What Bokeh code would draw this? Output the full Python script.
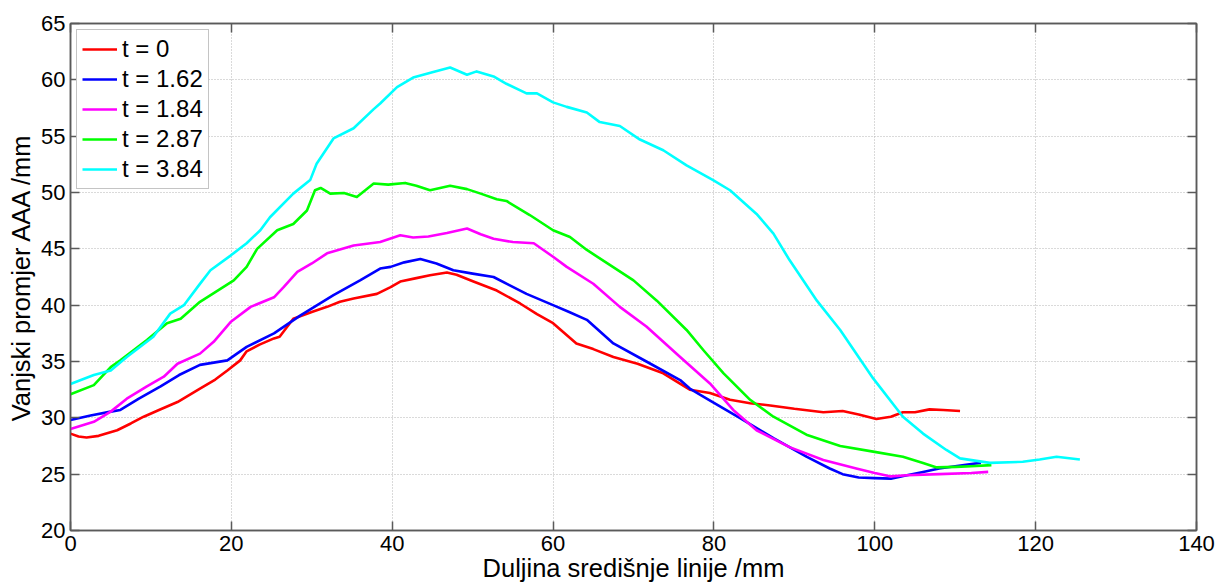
from bokeh.plotting import figure
from bokeh.models import LinearAxis, Range1d, FixedTicker, Legend, LegendItem
from bokeh.embed import file_html
from bokeh.resources import INLINE

# ---- data ----
labels = ["t = 0", "t = 1.62", "t = 1.84", "t = 2.87", "t = 3.84"]
colors = ["#ff0000", "#0000ff", "#ff00ff", "#00ff00", "#00ffff"]

x_t0 = [0, 1, 2, 3.5, 5.8, 7.5, 9.1, 11, 13.3, 16.1, 18, 19.5, 21.1, 21.9, 23.5, 25.3, 26, 27.7, 30, 31.9,
        33.5, 35.2, 38.1, 39.8, 41.0, 43, 44.7, 46.8, 48, 50.1, 53.0, 55.9, 58, 60.0, 62.9, 65, 67.5, 70.5,
        73.7, 77.0, 79.5, 82, 84.5, 87, 90, 93.6, 96, 98, 100.2, 102, 103.5, 105, 106.8, 108.5, 110.6]
y_t0 = [28.6, 28.35, 28.25, 28.4, 28.9, 29.5, 30.1, 30.7, 31.4, 32.6, 33.4, 34.2, 35.1, 35.9, 36.5, 37.05,
        37.2, 38.8, 39.4, 39.85, 40.3, 40.6, 41.0, 41.6, 42.1, 42.4, 42.65, 42.9, 42.7, 42.1, 41.3, 40.15,
        39.2, 38.4, 36.6, 36.1, 35.4, 34.8, 33.95, 32.5, 32.2, 31.6, 31.3, 31.1, 30.8, 30.5, 30.6, 30.3,
        29.9, 30.1, 30.5, 30.5, 30.75, 30.7, 30.6]

x_t162 = [0, 2.5, 5, 6.2, 8.5, 11.2, 13.5, 16.1, 19.5, 21.9, 25.3, 28.6, 32.7, 36.0, 38.5, 39.8, 41.5,
          43.5, 45.5, 47.6, 50, 52.6, 54.5, 56.7, 60.0, 62, 64.2, 67.5, 71.6, 75.8, 77.0, 79.1, 83.2, 87.4,
          91.5, 94.4, 96, 98, 100, 102, 104, 106, 108, 110, 112, 113.2]
y_t162 = [29.8, 30.2, 30.55, 30.7, 31.7, 32.8, 33.8, 34.7, 35.1, 36.3, 37.5, 39.1, 40.9, 42.2, 43.25, 43.4,
          43.8, 44.1, 43.7, 43.1, 42.8, 42.5, 41.8, 41.0, 40.0, 39.4, 38.7, 36.6, 35.0, 33.35, 32.6, 31.7,
          30.0, 28.2, 26.55, 25.5, 25.0, 24.7, 24.65, 24.6, 24.9, 25.2, 25.5, 25.7, 25.9, 26.0]

x_t184 = [0, 2.9, 5, 7.0, 9.5, 11.6, 13.3, 16.1, 17.8, 19.9, 22.4, 25.3, 26.5, 28.2, 30, 31.9, 35.2, 38.5,
          41, 42.6, 44.5, 46.8, 49.3, 51, 52.6, 55, 57.6, 60.0, 61.7, 65.0, 68.3, 71.6, 75.8, 79.5, 82.4,
          85.3, 89.4, 93.6, 97.7, 100, 102, 104, 108, 112, 114.1]
y_t184 = [29.0, 29.65, 30.55, 31.7, 32.8, 33.65, 34.8, 35.7, 36.75, 38.5, 39.85, 40.7, 41.6, 42.95, 43.7,
          44.6, 45.3, 45.6, 46.2, 46.0, 46.1, 46.4, 46.8, 46.3, 45.9, 45.6, 45.5, 44.3, 43.4, 41.9, 39.85,
          38.1, 35.4, 33.05, 30.7, 28.9, 27.4, 26.25, 25.5, 25.1, 24.8, 24.9, 25.0, 25.1, 25.2]

x_t287 = [0, 2.9, 5, 6.2, 9.5, 12.0, 13.7, 16.1, 20.3, 21.9, 23.2, 25.7, 27.7, 29.4, 30.4, 31.1, 32.3,
          34.0, 35.6, 37.7, 39.5, 41.6, 43, 44.7, 47.2, 49.3, 51, 53.0, 54.2, 57.1, 60.0, 62.1, 64.2, 67,
          70.0, 72.9, 76.6, 78.7, 81.2, 84.5, 87.4, 91.5, 95.7, 99.8, 103.5, 106.0, 107.7, 110.1, 112, 114.5]
y_t287 = [32.1, 32.9, 34.5, 35.1, 36.9, 38.4, 38.8, 40.3, 42.2, 43.4, 45.0, 46.65, 47.2, 48.4, 50.2, 50.4,
          49.9, 49.95, 49.6, 50.8, 50.7, 50.85, 50.6, 50.2, 50.6, 50.3, 49.9, 49.4, 49.25, 48.0, 46.65,
          46.05, 44.9, 43.6, 42.2, 40.4, 37.8, 36.0, 33.95, 31.6, 30.1, 28.5, 27.5, 27.0, 26.55, 26.0,
          25.6, 25.65, 25.7, 25.8]

x_t384 = [0, 2.9, 5, 7.0, 10.3, 12.4, 14.1, 16, 17.4, 19.9, 21.9, 23.6, 24.8, 27.7, 29.8, 30.6, 32.7,
          35.2, 37.7, 38.5, 40.6, 42.6, 45.1, 47.2, 49.3, 50.5, 52.6, 54.2, 56.7, 58.0, 60.0, 61.7, 64.2,
          65.8, 68.3, 70.8, 73.7, 76.6, 79.9, 82.0, 85.3, 87.4, 89.4, 92.8, 95.7, 99.8, 103.5, 106.0,
          108.9, 110.6, 114.3, 118.4, 120.5, 122.6, 125.5]
y_t384 = [33.0, 33.8, 34.2, 35.4, 37.2, 39.25, 40.0, 41.8, 43.1, 44.4, 45.5, 46.65, 47.8, 49.9, 51.1,
          52.55, 54.8, 55.7, 57.4, 57.9, 59.35, 60.2, 60.7, 61.1, 60.45, 60.75, 60.3, 59.65, 58.8, 58.8,
          58.0, 57.6, 57.1, 56.25, 55.9, 54.7, 53.75, 52.4, 51.1, 50.2, 48.1, 46.35, 44.0, 40.4, 37.8,
          33.5, 30.1, 28.6, 27.15, 26.4, 26.0, 26.1, 26.3, 26.55, 26.3]

x_ticks = [0, 20, 40, 60, 80, 100, 120, 140]
y_ticks = [20, 25, 30, 35, 40, 45, 50, 55, 60, 65]

series_x = [x_t0, x_t162, x_t184, x_t287, x_t384]
series_y = [y_t0, y_t162, y_t184, y_t287, y_t384]

FONT = "Liberation Sans"
AXC = "#5a5a5a"

p = figure(width=1216, height=586, output_backend="svg", toolbar_location=None,
           x_range=Range1d(0, 140), y_range=Range1d(20, 65),
           min_border_left=70, min_border_right=20, min_border_top=23, min_border_bottom=56,
           x_axis_label="Duljina središnje linije /mm", y_axis_label="Vanjski promjer AAA /mm")
p.outline_line_color = AXC
p.outline_line_width = 1.5
p.background_fill_color = "white"
p.border_fill_color = "white"

for ax, ticks in ((p.xaxis[0], x_ticks), (p.yaxis[0], y_ticks)):
    ax.ticker = FixedTicker(ticks=ticks)
    ax.major_tick_in = 9
    ax.major_tick_out = 0
    ax.minor_tick_line_color = None
    ax.axis_line_color = AXC
    ax.axis_line_width = 1.5
    ax.major_tick_line_color = AXC
    ax.major_tick_line_width = 1.5
    ax.major_label_text_font = FONT
    ax.major_label_text_font_size = "22px"
    ax.major_label_text_color = "black"
    ax.axis_label_text_font = FONT
    ax.axis_label_text_font_size = "25.5px"
    ax.axis_label_text_font_style = "normal"
    ax.axis_label_text_color = "black"
p.xaxis[0].major_label_standoff = 5
p.xaxis[0].axis_label_standoff = 0
p.yaxis[0].major_label_standoff = 5
p.yaxis[0].axis_label_standoff = 3

# box ticks on top and right
for loc, ticks in (("above", x_ticks), ("right", y_ticks)):
    ax = LinearAxis(ticker=FixedTicker(ticks=ticks), major_tick_in=9, major_tick_out=0,
                    minor_tick_line_color=None, axis_line_color=AXC, axis_line_width=1.5,
                    major_tick_line_color=AXC, major_tick_line_width=1.5,
                    major_label_text_font_size="0px", major_label_standoff=0)
    p.add_layout(ax, loc)

for g, ticks in ((p.xgrid[0], x_ticks), (p.ygrid[0], y_ticks)):
    g.ticker = FixedTicker(ticks=ticks)
    g.grid_line_color = "#b4b4b4"
    g.grid_line_dash = "1 2"
    g.grid_line_width = 1

items = []
for xs, ys, c, lab in zip(series_x, series_y, colors, labels):
    r = p.line(xs, ys, line_color=c, line_width=2.6, line_join="round")
    items.append(LegendItem(label=lab, renderers=[r]))

legend = Legend(items=items, location="top_left")
legend.label_text_font = FONT
legend.label_text_font_size = "24px"
legend.label_text_color = "black"
legend.glyph_width = 35
legend.glyph_height = 24
legend.label_height = 24
legend.label_standoff = 5
legend.spacing = 2
legend.padding = 5
legend.margin = 6
legend.border_line_color = "#8a8a8a"
legend.border_line_width = 1.2
legend.background_fill_color = "white"
legend.background_fill_alpha = 1
p.add_layout(legend)

open("out.html", "w").write(file_html(p, INLINE))
